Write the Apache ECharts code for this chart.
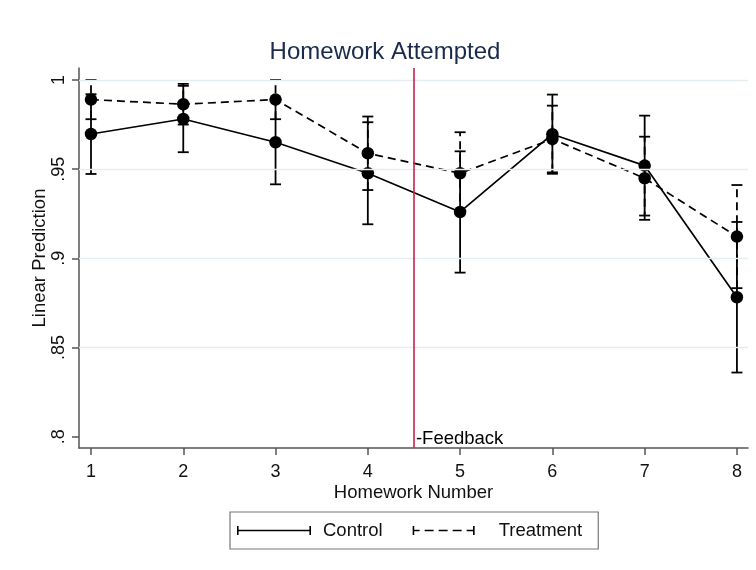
<!DOCTYPE html>
<html>
<head>
<meta charset="utf-8">
<script src="https://cdn.jsdelivr.net/npm/echarts@6/dist/echarts.min.js"></script>
<style>html,body{margin:0;padding:0;background:#fff;}#chart{width:756px;height:570px;}</style>
</head>
<body>
<div id="chart"></div>
<script>
const homework = [1, 2, 3, 4, 5, 6, 7, 8];
const xTickLabels = ['1', '2', '3', '4', '5', '6', '7', '8'];
const yTicks = [0.8, 0.85, 0.9, 0.95, 1];
const gridValues = [0.85, 0.9, 0.95, 1];
const controlMean = [0.9697, 0.9781, 0.9651, 0.9477, 0.926, 0.9696, 0.952, 0.8782];
const controlLow  = [0.9473, 0.9595, 0.9415, 0.9191, 0.892, 0.9474, 0.924, 0.836];
const controlHigh = [0.992, 0.9967, 0.9887, 0.9763, 0.960, 0.9918, 0.980, 0.9204];
const treatMean = [0.989, 0.9864, 0.989, 0.9589, 0.9477, 0.9669, 0.9449, 0.9122];
const treatLow  = [0.978, 0.975, 0.978, 0.9383, 0.9247, 0.9482, 0.9216, 0.8833];
const treatHigh = [1.0, 0.9978, 1.0, 0.9795, 0.9707, 0.9856, 0.9682, 0.9411];
const feedbackAt = 4.5;
const feedbackLabel = '-Feedback';

const FONT = '"Liberation Sans", Arial, sans-serif';
const chart = echarts.init(document.getElementById('chart'), null, {renderer: 'canvas'});

function errorBars(dashed) {
  return function (params, api) {
    const x = api.value(0);
    const lo = api.coord([x, api.value(1)]);
    const hi = api.coord([x, api.value(2)]);
    const cw = 5.5;
    const base = {stroke: '#000', lineWidth: 1.8, fill: null};
    const barStyle = dashed ? Object.assign({lineDash: [8, 5]}, base) : base;
    return {
      type: 'group',
      children: [
        {type: 'line', shape: {x1: lo[0], y1: lo[1], x2: hi[0], y2: hi[1]}, style: barStyle},
        {type: 'line', shape: {x1: lo[0] - cw, y1: lo[1], x2: lo[0] + cw, y2: lo[1]}, style: base},
        {type: 'line', shape: {x1: hi[0] - cw, y1: hi[1], x2: hi[0] + cw, y2: hi[1]}, style: base}
      ]
    };
  };
}

const ctrlIcon = 'path://M0,0L1.6,0L1.6,9L0,9Z M0,3.7L74,3.7L74,5.3L0,5.3Z M72.4,0L74,0L74,9L72.4,9Z';
const treatIcon = 'path://M0,0L1.6,0L1.6,9L0,9Z M0,3.7L7,3.7L7,5.3L0,5.3Z M12,3.7L21,3.7L21,5.3L12,5.3Z M26,3.7L35,3.7L35,5.3L26,5.3Z M40,3.7L49,3.7L49,5.3L40,5.3Z M54,3.7L62,3.7L62,5.3L54,5.3Z M60.4,0L62,0L62,9L60.4,9Z M74,4.5L74,4.5';

const option = {
  animation: false,
  backgroundColor: '#fff',
  textStyle: {fontFamily: FONT},
  title: {
    text: 'Homework Attempted',
    left: 385,
    textAlign: 'center',
    top: 40,
    padding: 0,
    textStyle: {fontSize: 24, fontWeight: 'normal', color: '#1a2a4a', fontFamily: FONT}
  },
  legend: {
    left: 230,
    top: 512,
    orient: 'horizontal',
    padding: [9, 16, 9, 7],
    borderColor: '#777',
    borderWidth: 1.2,
    itemWidth: 74,
    itemHeight: 9,
    itemGap: 30,
    itemStyle: {borderWidth: 0},
    textStyle: {fontSize: 18.5, color: '#111', fontFamily: FONT, padding: [0, 0, 0, 7]},
    data: [{name: 'Control', icon: ctrlIcon}, {name: 'Treatment', icon: treatIcon}]
  },
  grid: {left: 79, right: 8, top: 68, bottom: 122, containLabel: false},
  xAxis: {
    type: 'value',
    min: 0.87,
    max: 8.12,
    name: 'Homework Number',
    nameLocation: 'middle',
    nameGap: 35,
    nameMoveOverlap: false,
    nameTextStyle: {fontSize: 18.5, color: '#111', fontFamily: FONT},
    axisLine: {show: true, lineStyle: {color: '#555', width: 1.5}},
    axisTick: {show: true, length: 7, customValues: homework, lineStyle: {color: '#555', width: 1.5}},
    axisLabel: {
      customValues: homework,
      margin: 15,
      fontSize: 18,
      color: '#111',
      fontFamily: FONT,
      formatter: function (v) { return xTickLabels[homework.indexOf(Math.round(v))]; }
    },
    splitLine: {show: false}
  },
  yAxis: {
    type: 'value',
    min: 0.7937,
    max: 1.0067,
    name: 'Linear Prediction',
    nameLocation: 'middle',
    nameRotate: 90,
    nameGap: 30,
    nameMoveOverlap: false,
    nameTextStyle: {fontSize: 18.5, color: '#111', fontFamily: FONT},
    axisLine: {show: true, lineStyle: {color: '#555', width: 1.5}},
    axisTick: {show: true, length: 7, customValues: yTicks, lineStyle: {color: '#555', width: 1.5}},
    axisLabel: {
      customValues: yTicks,
      rotate: 90,
      margin: 11,
      fontSize: 18,
      color: '#111',
      fontFamily: FONT,
      formatter: function (v) { return String(+v.toFixed(2)).replace(/^0\./, '.'); }
    },
    splitLine: {show: false}
  },
  series: [
    {
      name: 'guides',
      type: 'line',
      data: [],
      silent: true,
      z: 1,
      markLine: {
        silent: true,
        symbol: 'none',
        animation: false,
        label: {show: false},
        data: gridValues.map(v => ({yAxis: v, lineStyle: {color: '#e6edf1', width: 1.3, type: 'solid'}}))
          .concat([{xAxis: feedbackAt, lineStyle: {color: '#c9214d', width: 1.6, type: 'solid'}}])
      }
    },
    {
      name: 'feedbackText',
      type: 'scatter',
      symbolSize: 0,
      silent: true,
      z: 5,
      data: [[feedbackAt, yTicks[0]]],
      label: {
        show: true,
        position: 'right',
        distance: 2,
        offset: [0, 2],
        formatter: feedbackLabel,
        fontSize: 18.5,
        color: '#000',
        opacity: 1,
        textBorderWidth: 0,
        fontFamily: FONT
      }
    },
    {
      name: 'Control CI',
      type: 'custom',
      renderItem: errorBars(false),
      encode: {x: 0, y: [1, 2]},
      z: 3,
      data: homework.map((h, i) => [h, controlLow[i], controlHigh[i]])
    },
    {
      name: 'Treatment CI',
      type: 'custom',
      renderItem: errorBars(true),
      encode: {x: 0, y: [1, 2]},
      z: 3,
      data: homework.map((h, i) => [h, treatLow[i], treatHigh[i]])
    },
    {
      name: 'Control',
      type: 'line',
      z: 4,
      color: '#000',
      symbol: 'circle',
      symbolSize: 12.5,
      itemStyle: {color: '#000'},
      lineStyle: {color: '#000', width: 1.7, type: 'solid'},
      data: homework.map((h, i) => [h, controlMean[i]])
    },
    {
      name: 'Treatment',
      type: 'line',
      z: 4,
      color: '#000',
      symbol: 'circle',
      symbolSize: 12.5,
      itemStyle: {color: '#000'},
      lineStyle: {color: '#000', width: 1.7, type: [8, 5]},
      data: homework.map((h, i) => [h, treatMean[i]])
    }
  ]
};
chart.setOption(option);
</script>
</body>
</html>
